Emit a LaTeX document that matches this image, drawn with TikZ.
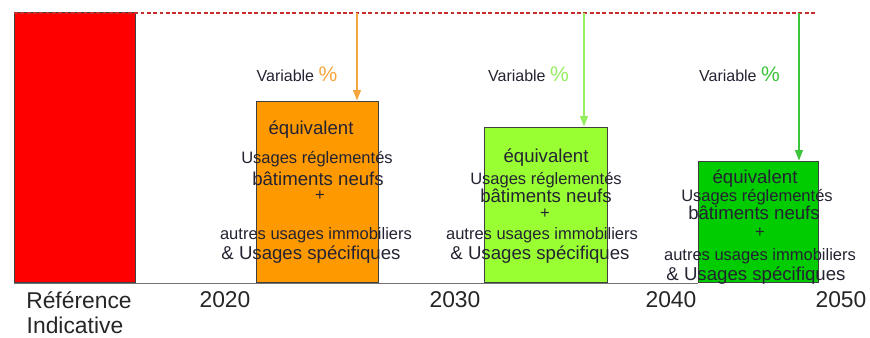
\documentclass[tikz,border=0pt]{standalone}
\usepackage{fontspec}
\setmainfont{Liberation Sans}
\usetikzlibrary{arrows.meta}

\definecolor{txtgray}{RGB}{35,35,50}
\definecolor{refred}{RGB}{255,0,0}
\definecolor{limred}{RGB}{200,45,45}
\definecolor{orfill}{RGB}{255,153,0}
\definecolor{orline}{RGB}{246,166,62}
\definecolor{lmfill}{RGB}{153,255,51}
\definecolor{lmline}{RGB}{150,238,95}
\definecolor{grfill}{RGB}{0,204,0}
\definecolor{grline}{RGB}{60,196,60}

\begin{document}
\begin{tikzpicture}[
		font=\fontsize{9.4}{11}\selectfont,
		text=txtgray,
		inner sep=1pt
	]
	\tikzset{
		bar/.style = {draw=black!75, line width=0.8pt, anchor=south west, inner sep=0pt},
		gain/.style = {-{Triangle[width=4.5pt,length=6pt]}, line width=0.8pt},
		big/.style = {font=\fontsize{10.6}{12}\selectfont},
		axis/.style = {font=\fontsize{13}{15}\selectfont, text=black!85},
		varlab/.style = {font=\fontsize{9.1}{11}\selectfont},
	}
	\useasboundingbox (0,0) rectangle (17.4,6.74);
	%
	\node[bar, fill=refred, minimum width=2.42cm, minimum height=5.40cm] at (0.28,1.08) (ref) {};
	\node[bar, fill=orfill, minimum width=2.44cm, minimum height=3.62cm] at (5.12,1.08) (boxA) {};
	\node[bar, fill=lmfill, minimum width=2.46cm, minimum height=3.10cm] at (9.68,1.08) (boxB) {};
	\node[bar, fill=grfill, minimum width=2.40cm, minimum height=2.42cm] at (13.96,1.08) (boxC) {};
	%
	\coordinate (lim0) at (0.28,6.48);
	\coordinate (lim1) at (16.30,6.48);
	\coordinate (topA) at (7.14,6.48);
	\coordinate (topB) at (11.68,6.48);
	\coordinate (topC) at (15.98,6.48);
	%
	\draw[black!55, line width=0.5pt] (ref.south west) -- (boxC.south west);
	\draw[limred, line width=0.9pt, dash pattern=on 2.2pt off 1.4pt] (lim0) -- (lim1);
	%
	\draw[gain, orline] (topA) -- (boxA.north -| topA);
	\draw[gain, lmline] (topB) -- (boxB.north -| topB);
	\draw[gain, grline] (topC) -- (boxC.north -| topC);
	%
	\node[varlab] at (5.94,5.26) (varA) {Variable \textcolor{orline}{\fontsize{12}{14}\selectfont\%}};
	\node[varlab] at (10.57,5.26) (varB) {Variable \textcolor{lmline}{\fontsize{12}{14}\selectfont\%}};
	\node[varlab] at (14.79,5.26) (varC) {Variable \textcolor{grline}{\fontsize{12}{14}\selectfont\%}};
	%
	\node[big] at (6.22,4.14) (eqA) {équivalent};
	\node at (6.34,3.56) (urA) {Usages réglementés};
	\node[big] at (6.36,3.16) (bnA) {bâtiments neufs};
	\node at (6.40,2.82) (plA) {+};
	\node at (6.32,2.04) (auA) {autres usages immobiliers};
	\node[big] at (6.22,1.64) (usA) {\& Usages spécifiques};
	%
	\node[big] at (10.92,3.58) (eqB) {équivalent};
	\node at (10.92,3.14) (urB) {Usages réglementés};
	\node[big] at (10.92,2.82) (bnB) {bâtiments neufs};
	\node at (10.90,2.46) (plB) {+};
	\node at (10.84,2.04) (auB) {autres usages immobiliers};
	\node[big] at (10.80,1.64) (usB) {\& Usages spécifiques};
	%
	\node[big] at (15.10,3.16) (eqC) {équivalent};
	\node at (15.14,2.80) (urC) {Usages réglementés};
	\node[big] at (15.08,2.48) (bnC) {bâtiments neufs};
	\node at (15.20,2.08) (plC) {+};
	\node at (15.20,1.62) (auC) {autres usages immobiliers};
	\node[big] at (15.12,1.22) (usC) {\& Usages spécifiques};
	%
	\node[axis] at (1.58,0.74) (refA) {Référence};
	\node[axis] at (1.50,0.24) (refB) {Indicative};
	\node[axis] at (4.50,0.74) (y20) {2020};
	\node[axis] at (9.10,0.74) (y30) {2030};
	\node[axis] at (13.42,0.74) (y40) {2040};
	\node[axis] at (16.82,0.74) (y50) {2050};
\end{tikzpicture}
\end{document}
